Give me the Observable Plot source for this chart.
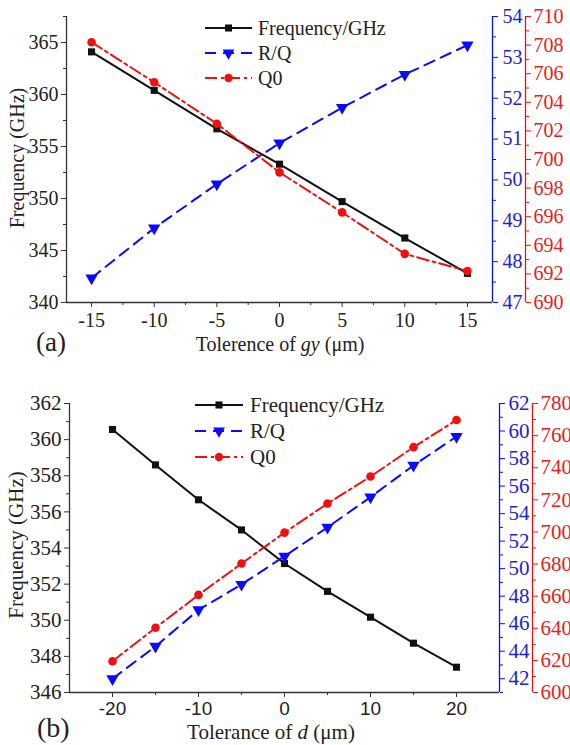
<!DOCTYPE html>
<html><head><meta charset="utf-8">
<script src="https://cdn.jsdelivr.net/npm/d3@7"></script>
<script src="https://cdn.jsdelivr.net/npm/@observablehq/plot@0.6"></script>
<style>
body{margin:0;background:#fff;}
#root{position:relative;width:570px;height:745px;overflow:hidden;font-family:"Liberation Serif","Times New Roman",serif;color:#222;}
.panel{position:absolute;left:0;width:570px;}
.panel svg{position:absolute;left:0;top:0;}
.lbl{position:absolute;white-space:nowrap;color:#222;line-height:1;}
</style></head><body><div id="root"></div>
<script>
// ---------- data: panel (a) ----------
const gyTol  = [-15, -10, -5, 0, 5, 10, 15];
const gyFreq = [364.1, 360.4, 356.7, 353.3, 349.7, 346.2, 342.8];
const gyRQ   = [47.6, 48.82, 49.9, 50.9, 51.77, 52.58, 53.3];
const gyQ0   = [708.2, 705.4, 702.5, 699.1, 696.3, 693.4, 692.2];
// ---------- data: panel (b) ----------
const dTol  = [-20, -15, -10, -5, 0, 5, 10, 15, 20];
const dFreq = [360.56, 358.6, 356.67, 355.0, 353.14, 351.6, 350.17, 348.73, 347.4];
const dRQ   = [42.0, 44.35, 47.0, 48.85, 50.9, 53.0, 55.2, 57.5, 59.6];
const dQ0   = [619.5, 640.3, 660.8, 680.3, 699.6, 717.7, 734.5, 752.8, 769.7];
// ---------- tick labels ----------
const aXTicks = [-15, -10, -5, 0, 5, 10, 15];
const aFreqTicks = [340, 345, 350, 355, 360, 365];
const aRQTicks = [47, 48, 49, 50, 51, 52, 53, 54];
const aQ0Ticks = [690, 692, 694, 696, 698, 700, 702, 704, 706, 708, 710];
const bXTicks = [-20, -10, 0, 10, 20];
const bFreqTicks = [346, 348, 350, 352, 354, 356, 358, 360, 362];
const bRQTicks = [42, 44, 46, 48, 50, 52, 54, 56, 58, 60, 62];
const bQ0Ticks = [600, 620, 640, 660, 680, 700, 720, 740, 760, 780];
const seriesNames = ["Frequency/GHz", "R/Q", "Q0"];

const BLACK = "#111", BLUE = "#0a0aff", RED = "#f01010";
const BLUE_TXT = "#2222d4", RED_TXT = "#e62020";
const serif = '"Liberation Serif","Times New Roman",serif';
const sans = '"Liberation Sans",Arial,sans-serif';
const range = (a, b, s) => d3.range(a, b + s / 2, s);

function layer(p) {
  const rows = p.x.map((x, i) => ({x, y: p.y[i]}));
  const marks = [];
  const edge = p.anchor === "left" ? p.xdomain[0] : p.xdomain[1];
  if (p.xaxis) {
    marks.push(Plot.ruleY([p.ydomain[0]], {stroke: "#333", strokeWidth: 1.3}));
    marks.push(Plot.axisX(p.xaxis.minor, {tickSize: 3, fill: "none", stroke: "#333", label: null}));
    marks.push(Plot.axisX(p.xaxis.ticks, {tickSize: 5, tickPadding: p.xaxis.pad, stroke: "#333", fill: "#222",
      fontSize: p.xaxis.fontSize, fontFamily: p.xaxis.font, tickFormat: d => String(d), label: null}));
  }
  marks.push(Plot.ruleX([edge], {dx: p.dx, stroke: p.axisColor, strokeWidth: 1.3}));
  marks.push(Plot.axisY(p.yminor, {anchor: p.anchor, dx: p.dx, tickSize: 3, fill: "none", stroke: p.axisColor, label: null}));
  marks.push(Plot.axisY(p.yticks, {anchor: p.anchor, dx: p.dx, tickSize: 5, tickPadding: p.pad, stroke: p.axisColor,
    fill: p.textColor, fontSize: p.fontSize, fontFamily: serif, tickFormat: d => String(d), label: null}));
  marks.push(Plot.line(rows, {x: "x", y: "y", stroke: p.color, strokeWidth: 2, strokeDasharray: p.dash}));
  marks.push(Plot.dot(rows, {x: "x", y: "y", symbol: p.symbol, r: p.r, rotate: p.rotate || 0, fill: p.color, stroke: "none"}));
  return Plot.plot({
    width: 570, height: p.height,
    marginTop: p.m[0], marginRight: p.m[1], marginBottom: p.m[2], marginLeft: p.m[3],
    x: {domain: p.xdomain, label: null, axis: p.xaxis ? undefined : null},
    y: {domain: p.ydomain, label: null},
    style: {background: "transparent", overflow: "visible", fontFamily: serif},
    marks
  });
}

function panel(cfg) {
  const div = document.createElement("div");
  div.className = "panel";
  div.style.top = cfg.top + "px";
  div.style.height = cfg.height + "px";
  document.getElementById("root").appendChild(div);
  const common = {x: cfg.x, xdomain: cfg.xdomain, height: cfg.height, m: cfg.m};
  div.appendChild(layer({...common, y: cfg.freq, ydomain: cfg.fd, yticks: cfg.ft, yminor: cfg.fm,
    anchor: "left", dx: 0, pad: 3, axisColor: "#333", textColor: "#222", color: BLACK, fontSize: cfg.fs,
    symbol: "square", r: 4, xaxis: cfg.xaxis}));
  div.appendChild(layer({...common, y: cfg.rq, ydomain: cfg.rd, yticks: cfg.rt, yminor: cfg.rm,
    anchor: "right", dx: 0, pad: cfg.bluePad, axisColor: BLUE, textColor: BLUE_TXT, color: BLUE, fontSize: cfg.fs,
    symbol: "triangle", r: 4.6, rotate: 180, dash: "11,7"}));
  div.appendChild(layer({...common, y: cfg.q0, ydomain: cfg.qd, yticks: cfg.qt, yminor: cfg.qm,
    anchor: "right", dx: cfg.redDx, pad: 3, axisColor: RED, textColor: RED_TXT, color: RED, fontSize: cfg.fs,
    symbol: "circle", r: 4.3, dash: "12,4,3,4"}));
  return div;
}

panel({top: 0, height: 360, m: [16, 78, 58, 66], x: gyTol, xdomain: [-17, 17], fs: 20,
  xaxis: {ticks: aXTicks, minor: range(-12.5, 12.5, 5), font: serif, fontSize: 20, pad: 5},
  freq: gyFreq, fd: [340, 367.5], ft: aFreqTicks, fm: range(342.5, 367.5, 5),
  rq: gyRQ, rd: [47, 54], rt: aRQTicks, rm: range(47.5, 53.5, 1), bluePad: 5,
  q0: gyQ0, qd: [690, 710], qt: aQ0Ticks, qm: range(691, 709, 2), redDx: 33});

panel({top: 370, height: 375, m: [33, 71, 53, 69], x: dTol, xdomain: [-25, 25], fs: 21,
  xaxis: {ticks: bXTicks, minor: [-15, -5, 5, 15], font: sans, fontSize: 19, pad: 4},
  freq: dFreq, fd: [346, 362], ft: bFreqTicks, fm: range(347, 361, 2),
  rq: dRQ, rd: [41, 62], rt: bRQTicks, rm: range(41, 61, 2), bluePad: 4,
  q0: dQ0, qd: [600, 780], qt: bQ0Ticks, qm: range(610, 770, 20), redDx: 33});

// ---------- text labels & legends ----------
const root = document.getElementById("root");
function label(html, x, y, size, opts = {}) {
  const el = document.createElement("div");
  el.className = "lbl";
  el.innerHTML = html;
  el.style.left = x + "px";
  el.style.top = y + "px";
  el.style.fontSize = size + "px";
  el.style.transform = opts.rotate ? "translate(-50%,-50%) rotate(-90deg)" : (opts.center ? "translate(-50%,-50%)" : "translate(0,-50%)");
  root.appendChild(el);
}
label("Frequency (GHz)", 17, 158, 20, {rotate: true});
label("Frequency (GHz)", 16, 545, 21, {rotate: true});
label("(a)", 36, 342, 27);
label("(b)", 37, 728, 28);
label("Tolerence of <i>gy</i> (μm)", 280, 344, 20, {center: true});
label("Tolerance of <i>d</i> (μm)", 271, 732, 21, {center: true});

const legendStyles = [
  {color: BLACK, dash: null, symbol: d3.symbolSquare, size: 50, rotate: 0},
  {color: BLUE, dash: "11,7", symbol: d3.symbolTriangle, size: 60, rotate: 180},
  {color: RED, dash: "12,4,3,4", symbol: d3.symbolCircle, size: 55, rotate: 0}
];
function legend(x0, x1, tx, ys, size) {
  const svg = d3.select(root).append("svg")
    .attr("width", 570).attr("height", 745)
    .style("position", "absolute").style("left", 0).style("top", 0).style("pointer-events", "none");
  seriesNames.forEach((name, i) => {
    const s = legendStyles[i], y = ys[i];
    svg.append("line").attr("x1", x0).attr("x2", x1).attr("y1", y).attr("y2", y)
      .attr("stroke", s.color).attr("stroke-width", 2).attr("stroke-dasharray", s.dash);
    svg.append("path").attr("d", d3.symbol(s.symbol, s.size)())
      .attr("transform", `translate(${(x0 + x1) / 2},${y}) rotate(${s.rotate})`).attr("fill", s.color);
    svg.append("text").attr("x", tx).attr("y", y).attr("dy", "0.35em")
      .attr("font-family", serif).attr("font-size", size).attr("fill", "#222").text(name);
  });
}
legend(205, 252, 258, [28, 53, 78], 20);
legend(195, 243, 250, [405, 431, 457], 21);
</script>
</body></html>
